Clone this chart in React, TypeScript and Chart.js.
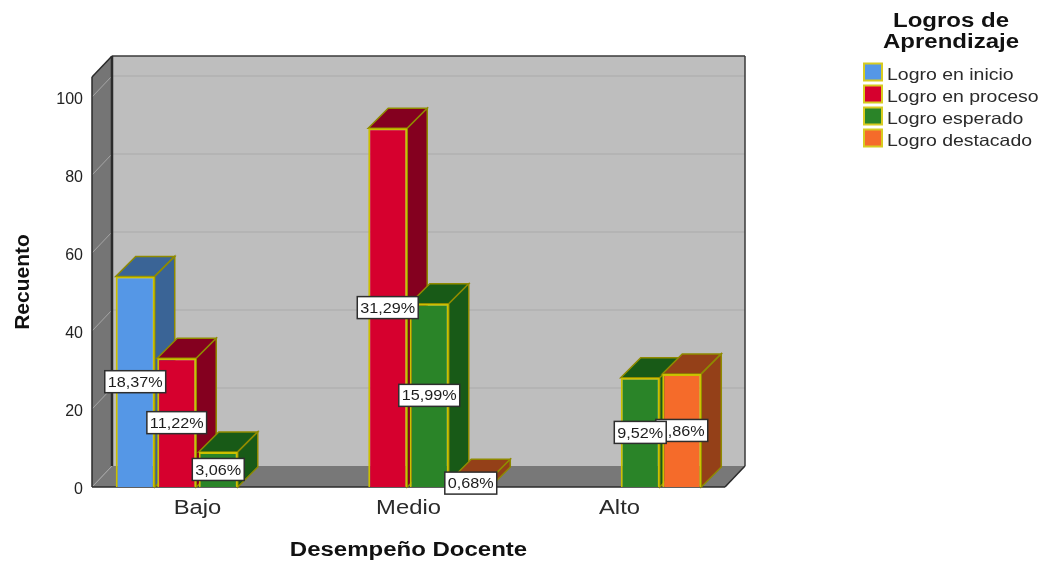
import React, { useEffect, useRef } from "react";
import Chart from "chart.js/auto";

const categories = ["Bajo", "Medio", "Alto"];
const seriesNames = ["Logro en inicio", "Logro en proceso", "Logro esperado", "Logro destacado"];
const inicio = [54, null, null];
const proceso = [33, 92, null];
const esperado = [9, 47, 28];
const destacado = [null, 2, 29];
const inicioPct = ["18,37%", null, null];
const procesoPct = ["11,22%", "31,29%", null];
const esperadoPct = ["3,06%", "15,99%", "9,52%"];
const destacadoPct = [null, "0,68%", "9,86%"];
const percentLabels = [inicioPct, procesoPct, esperadoPct, destacadoPct];
const frontColors = ["#5597e6", "#d6002e", "#2a8428", "#f56b2a"];
const sideColors = ["#3a6496", "#84001f", "#185a17", "#944018"];
const legendTitle = ["Logros de", "Aprendizaje"];
const xTitle = "Desempeño Docente";
const yTitle = "Recuento";

const FONT = '"Liberation Sans", Arial, sans-serif';
const DX = 20;
const DY = -21;
const BAR_DY = -20;
const BORDER = "#cbc000";
const EDGE = "#8f8a00";

function stretched(ctx: any, text: string, cx: number, cy: number, font: string, sx: number, color: string, align = "center") {
  ctx.save();
  ctx.translate(cx, cy);
  ctx.scale(sx, 1);
  ctx.font = font;
  ctx.textAlign = align;
  ctx.textBaseline = "middle";
  ctx.fillStyle = color;
  ctx.fillText(text, 0, 0);
  ctx.restore();
}

function poly(ctx: any, pts: number[][], fill: string | null, stroke: string | null, lw = 1) {
  ctx.beginPath();
  pts.forEach((p, i) => (i ? ctx.lineTo(p[0], p[1]) : ctx.moveTo(p[0], p[1])));
  ctx.closePath();
  if (fill) {
    ctx.fillStyle = fill;
    ctx.fill();
  }
  if (stroke) {
    ctx.strokeStyle = stroke;
    ctx.lineWidth = lw;
    ctx.stroke();
  }
}

function line(ctx: any, x0: number, y0: number, x1: number, y1: number, color: string, lw: number) {
  ctx.beginPath();
  ctx.moveTo(x0, y0);
  ctx.lineTo(x1, y1);
  ctx.strokeStyle = color;
  ctx.lineWidth = lw;
  ctx.stroke();
}

const box3d = {
  id: "box3d",
  beforeDatasetsDraw(chart: any) {
    const { ctx, chartArea: a, scales } = chart;
    const { left: l, right: r, top: t, bottom: b } = a;
    ctx.save();
    // back wall
    poly(ctx, [[l + DX, t + DY], [r + DX, t + DY], [r + DX, b + DY], [l + DX, b + DY]], "#bebebe", null);
    // left wall
    poly(ctx, [[l, t], [l + DX, t + DY], [l + DX, b + DY], [l, b]], "#757575", null);
    // floor
    poly(ctx, [[l, b], [r, b], [r + DX, b + DY], [l + DX, b + DY]], "#787878", null);
    // gridlines from the value scale
    scales.y.ticks.forEach((tk: any) => {
      const y = scales.y.getPixelForValue(tk.value);
      if (tk.value !== 0) line(ctx, l + DX, y + DY, r + DX, y + DY, "#b1b1b1", 1.5);
      line(ctx, l, y, l + DX, y + DY, "#a6a6a6", 1);
    });
    // frame
    line(ctx, l + DX, t + DY, r + DX, t + DY, "#3a3a3a", 1.5);
    line(ctx, r + DX, t + DY, r + DX, b + DY, "#3a3a3a", 1.5);
    line(ctx, l + DX, t + DY, l + DX, b + DY, "#2b2b2b", 2.5);
    line(ctx, l, t, l + DX, t + DY, "#2b2b2b", 1.5);
    line(ctx, l, t, l, b, "#2b2b2b", 1.5);
    line(ctx, r, b, r + DX, b + DY, "#2b2b2b", 1.5);
    line(ctx, l, b, r, b, "#2b2b2b", 1.5);
    ctx.restore();
  },
  beforeDatasetDraw() {
    return false;
  },
  afterDatasetsDraw(chart: any) {
    const { ctx } = chart;
    // bars left to right: top and side faces first, then the library's front face
    chart.data.datasets.forEach((ds: any, i: number) => {
      const meta = chart.getDatasetMeta(i);
      ctx.save();
      meta.data.forEach((el: any, j: number) => {
        if (ds.data[j] == null) return;
        const x0 = el.x - el.width / 2;
        const x1 = el.x + el.width / 2;
        const yT = el.y;
        const yB = el.base;
        poly(ctx, [[x0, yT], [x1, yT], [x1 + DX, yT + BAR_DY], [x0 + DX, yT + BAR_DY]], sideColors[i], EDGE, 1.5);
        poly(ctx, [[x1, yT], [x1 + DX, yT + BAR_DY], [x1 + DX, yB + BAR_DY], [x1, yB]], sideColors[i], EDGE, 1.5);
      });
      ctx.restore();
      meta.controller.draw();
    });
    // percentage boxes, last series first
    for (let i = chart.data.datasets.length - 1; i >= 0; i--) {
      const meta = chart.getDatasetMeta(i);
      meta.data.forEach((el: any, j: number) => {
        const txt = percentLabels[i][j];
        if (!txt) return;
        const cy = (el.y + el.base) / 2;
        const font = `15px ${FONT}`;
        const sx = 1.08;
        ctx.save();
        ctx.font = font;
        const w = ctx.measureText(txt).width * sx + 6;
        const h = 22;
        ctx.fillStyle = "#ffffff";
        ctx.fillRect(el.x - w / 2, cy - h / 2, w, h);
        ctx.strokeStyle = "#2e2e2e";
        ctx.lineWidth = 1.5;
        ctx.strokeRect(el.x - w / 2, cy - h / 2, w, h);
        ctx.restore();
        stretched(ctx, txt, el.x, cy + 1, font, sx, "#1c1c1c");
      });
    }
  },
  afterDraw(chart: any) {
    const { ctx, scales } = chart;
    // category labels
    categories.forEach((c, i) => {
      stretched(ctx, c, scales.x.getPixelForTick(i), 509, `19.5px ${FONT}`, 1.22, "#2a2a2a");
    });
    // x title
    stretched(ctx, xTitle, scales.x.left + scales.x.width / 2, 550.5, `bold 20px ${FONT}`, 1.2, "#111111");
    // legend
    legendTitle.forEach((s, i) => {
      stretched(ctx, s, 951, 21 + i * 21, `bold 20px ${FONT}`, 1.2, "#111111");
    });
    chart.data.datasets.forEach((ds: any, i: number) => {
      const y = 63.5 + i * 22;
      ctx.fillStyle = ds.backgroundColor;
      ctx.fillRect(864, y, 18, 17);
      ctx.strokeStyle = "#d8cc20";
      ctx.lineWidth = 2;
      ctx.strokeRect(864, y, 18, 17);
      stretched(ctx, ds.label, 887, y + 11.5, `16.5px ${FONT}`, 1.18, "#2a2a2a", "left");
    });
  },
};

const makeDs = (label: string, data: (number | null)[], color: string) => ({
  label,
  data,
  backgroundColor: color,
  borderColor: BORDER,
  borderWidth: 2,
  categoryPercentage: 0.787,
  barPercentage: 0.94,
});

export default function App() {
  const ref = useRef<HTMLCanvasElement>(null);
  useEffect(() => {
    const chart = new Chart(ref.current as HTMLCanvasElement, {
      type: "bar",
      data: {
        labels: categories,
        datasets: [
          makeDs(seriesNames[0], inicio, frontColors[0]),
          makeDs(seriesNames[1], proceso, frontColors[1]),
          makeDs(seriesNames[2], esperado, frontColors[2]),
          makeDs(seriesNames[3], destacado, frontColors[3]),
        ],
      },
      options: {
        responsive: false,
        animation: false,
        layout: { padding: { top: 77, right: 322, left: 0, bottom: 0 } },
        plugins: { legend: { display: false }, tooltip: { enabled: false }, title: { display: false } },
        scales: {
          x: {
            grid: { display: false },
            border: { display: false },
            ticks: { display: false },
            afterFit: (s: any) => {
              s.height = 74;
            },
          },
          y: {
            min: 0,
            max: 105.13,
            grid: { display: false, drawTicks: false },
            border: { display: false },
            ticks: {
              stepSize: 20,
              padding: 9,
              labelOffset: 3,
              color: "#222222",
              font: { family: FONT, size: 16 },
            },
            title: {
              display: true,
              text: yTitle,
              color: "#111111",
              font: { family: FONT, size: 21, weight: "bold" },
              padding: { top: 11, bottom: 0 },
            },
            afterBuildTicks: (s: any) => {
              s.ticks = s.ticks.filter((t: any) => t.value % 20 === 0);
            },
            afterFit: (s: any) => {
              s.width = 92;
            },
          },
        },
      },
      plugins: [box3d],
    } as any);
    return () => chart.destroy();
  }, []);
  return (
    <div style={{ position: "absolute", left: 0, top: 0, width: 1047, height: 561, background: "#ffffff" }}>
      <canvas ref={ref} width={1047} height={561} style={{ display: "block" }} />
    </div>
  );
}
